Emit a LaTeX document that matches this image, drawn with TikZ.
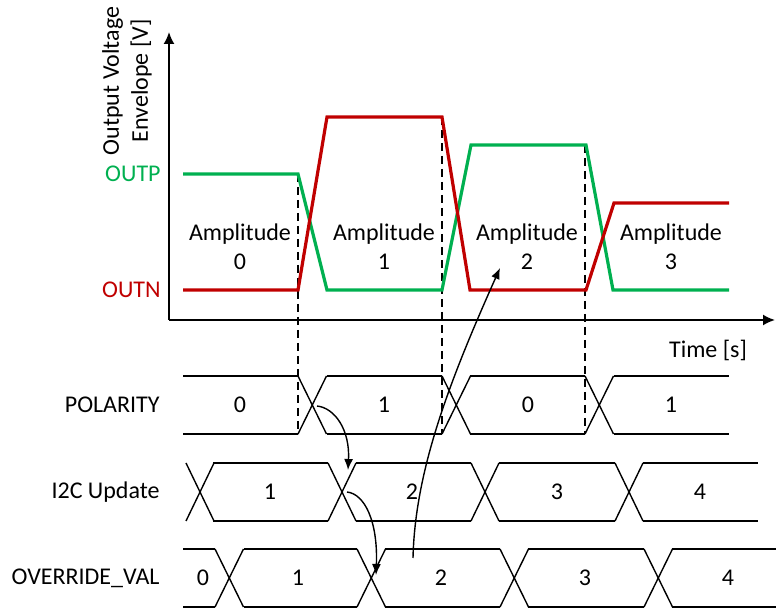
\documentclass[tikz,border=0pt]{standalone}
\usepackage{fontspec}
\setmainfont{Carlito}
\usetikzlibrary{arrows.meta}
\definecolor{outpgreen}{RGB}{0,176,80}
\definecolor{outnred}{RGB}{192,0,0}
\tikzstyle{axis}=[line width=0.9pt,-{Latex[length=6pt,width=5.5pt]}]
\tikzstyle{envelope}=[line width=1.6pt]
\tikzstyle{bus}=[line width=0.7pt]
\tikzstyle{marker}=[line width=0.7pt,dash pattern=on 4pt off 2.5pt]
\tikzstyle{txt}=[font=\fontsize{12}{14.5}\selectfont,inner sep=0pt]
\tikzstyle{cause}=[line width=0.7pt,-{Latex[length=5.5pt,width=4.5pt]}]

\begin{document}
\begin{tikzpicture}[x=0.5pt,y=-0.5pt]
\useasboundingbox (0,0) rectangle (776,608);

% Axes and their labels
\coordinate (origin) at (169,320);
\coordinate (ytip) at (169,32);
\coordinate (xtip) at (775,320);
\draw[axis] (origin) -- (ytip);
\draw[axis] (origin) -- (xtip);
\node[txt,rotate=90,align=center] (ylabel) at (127,81) {Output Voltage\\Envelope [V]};
\node[txt] (time) at (708,350) {Time [s]};
\node[txt,anchor=east,text=outpgreen] (outp) at (161,174) {OUTP};
\node[txt,anchor=east,text=outnred] (outn) at (161,290) {OUTN};

% Dashed markers at the polarity edges
\foreach \x/\ytop in {298/174, 442/117, 585/145}
\draw[marker] (\x,\ytop) -- (\x,434);

% Output envelopes
\draw[envelope,outpgreen] (183,174) -- (298,174) -- (327,290) -- (442,290) -- (471,145) -- (586,145) -- (613,290) -- (729,290);
\draw[envelope,outnred] (183,290) -- (298,290) -- (327,117) -- (442,117) -- (470,290) -- (586,290) -- (614,203) -- (729,203);

\foreach \x/\n in {240/0, 384/1, 527/2, 671/3}
\node[txt,align=center] (amp\n) at (\x,247) {Amplitude\\\n};

% Row names
\node[txt,anchor=east] (polarity) at (160,405) {POLARITY};
\node[txt,anchor=east] (i2c) at (160,492) {I2C Update};
\node[txt,anchor=east] (override) at (160,578) {OVERRIDE\_VAL};

% POLARITY bus
\foreach \s/\e in {183/298, 327/442, 470/585, 614/729} {
  \draw[bus] (\s,376) -- (\e,376);
  \draw[bus] (\s,434) -- (\e,434);
}
\foreach \c in {298, 442, 585} {
  \draw[bus] (\c,376) -- (\c+28.5,434);
  \draw[bus] (\c,434) -- (\c+28.5,376);
}
\foreach \x/\v/\k in {240/0/a, 384/1/b, 528/0/c, 671/1/d}
\node[txt] (pol\k) at (\x,405) {\v};

% I2C Update bus
\foreach \s/\e in {213/328, 356/471, 499/615, 643/758} {
  \draw[bus] (\s,463) -- (\e,463);
  \draw[bus] (\s,521) -- (\e,521);
}
\foreach \c in {186, 328, 471, 615} {
  \draw[bus] (\c,463) -- (\c+28,521);
  \draw[bus] (\c,521) -- (\c+28,463);
}
\foreach \x/\v in {270/1, 412/2, 557/3, 700/4}
\node[txt] (i2c\v) at (\x,492) {\v};

% OVERRIDE_VAL bus
\foreach \s/\e in {183/215, 244/357, 385/500, 528/644, 672/776} {
  \draw[bus] (\s,549) -- (\e,549);
  \draw[bus] (\s,607) -- (\e,607);
}
\foreach \c in {215, 357, 500, 644} {
  \draw[bus] (\c,549) -- (\c+28.5,607);
  \draw[bus] (\c,607) -- (\c+28.5,549);
}
\foreach \x/\v in {203/0, 298/1, 441/2, 585/3, 728/4}
\node[txt] (ovr\v) at (\x,578) {\v};

% Cause and effect
\coordinate (polx) at (317,406);
\coordinate (i2cin) at (348,470);
\coordinate (i2cx) at (347,492);
\coordinate (ovrin) at (376,575);
\coordinate (ovrout) at (413,558);
\coordinate (ampin) at (500,268);
\draw[cause] (polx) .. controls (335,408) and (350,430) .. (i2cin);
\draw[cause] (i2cx) .. controls (365,494) and (378,522) .. (ovrin);
\draw[cause] (ovrout) .. controls (415,470) and (450,380) .. (ampin);

\end{tikzpicture}
\end{document}
